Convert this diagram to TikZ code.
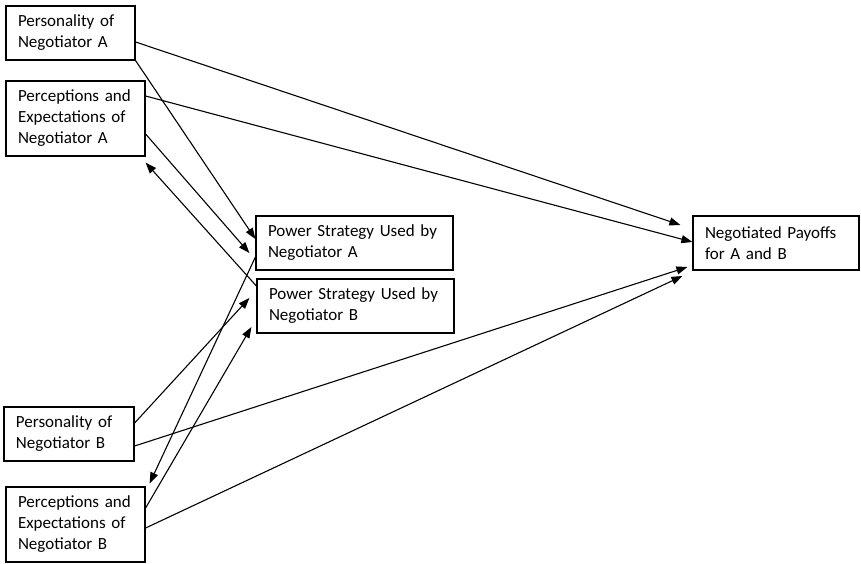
\documentclass[tikz,border=0pt]{standalone}
\usepackage{fontspec}
\setmainfont{Carlito}
\usetikzlibrary{arrows.meta}
\tikzset{
  box/.style={draw, line width=1.2pt, inner xsep=12pt, inner ysep=0pt, align=left,
    font=\fontsize{17}{21}\selectfont, minimum height=54pt},
  conn/.style={line width=1.1pt, -{Triangle[length=11pt,width=8pt]}},
  connrev/.style={line width=1.1pt, {Triangle[length=11pt,width=8pt]}-}
}
\begin{document}
\begin{tikzpicture}[x=1pt,y=-1pt]
\useasboundingbox (0,0) rectangle (861,563);
\node[box, minimum width=129pt, text width=105pt] (b1) at (70.5,33) {Personality~of\\Negotiator~A};
\node[box, minimum width=139pt, minimum height=75pt, text width=115pt] (b2) at (75.5,118.5) {Perceptions~and\\Expectations~of\\Negotiator~A};
\node[box, minimum width=197pt, text width=173pt] (b3) at (354.5,243) {Power~Strategy~Used~by\\Negotiator~A};
\node[box, minimum width=197pt, text width=173pt] (b4) at (355.5,306) {Power~Strategy~Used~by\\Negotiator~B};
\node[box, minimum width=166pt, text width=142pt] (b5) at (776,243) {Negotiated~Payoffs\\for~A~and~B};
\node[box, minimum width=130pt, text width=106pt] (b6) at (69,434) {Personality~of\\Negotiator~B};
\node[box, minimum width=139pt, minimum height=75pt, text width=115pt] (b7) at (75.5,524.5) {Perceptions~and\\Expectations~of\\Negotiator~B};

\draw[conn] ([yshift=-9pt]b1.east) -- ([xshift=-12pt,yshift=18pt]b5.west);
\draw[conn] (b1.south east) -- ([yshift=4pt]b3.west);
\draw[conn] ([yshift=22.5pt]b2.east) -- ([yshift=1pt]b5.west);
\draw[conn] ([yshift=-15.5pt]b2.east) -- ([xshift=-6pt,yshift=-10pt]b3.west);
\draw[connrev] ([yshift=-6pt]b2.south east) -- ([yshift=20pt]b4.west);
\draw[conn] ([yshift=-14pt]b3.west) -- ([xshift=4pt,yshift=3pt]b7.north east);
\draw[conn] ([yshift=11pt]b6.east) -- ([xshift=-7pt,yshift=8pt]b4.west);
\draw[conn] ([yshift=16.5pt]b7.east) -- ([xshift=-5pt,yshift=-21pt]b4.west);
\draw[conn] ([yshift=-12pt]b6.east) -- ([xshift=-5pt,yshift=-24pt]b5.west);
\draw[conn] ([yshift=-3.5pt]b7.east) -- ([xshift=-10pt,yshift=-33pt]b5.west);
\end{tikzpicture}
\end{document}
